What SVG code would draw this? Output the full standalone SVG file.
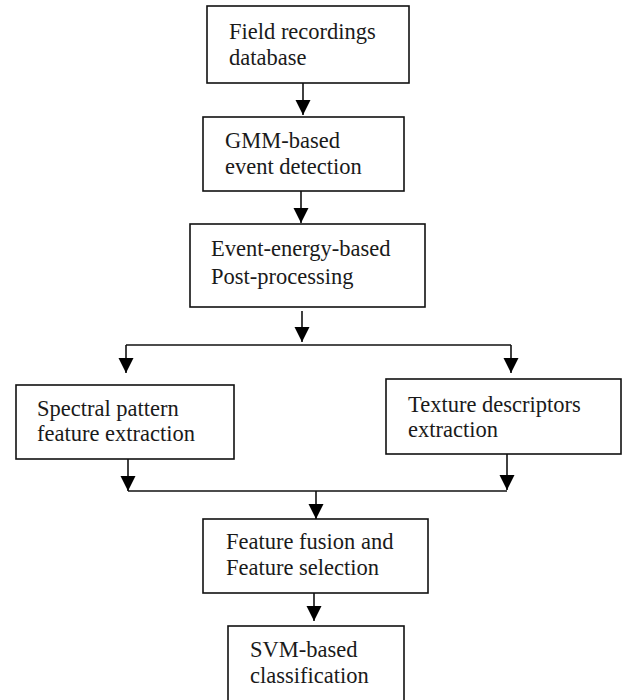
<svg xmlns="http://www.w3.org/2000/svg" width="622" height="700" viewBox="0 0 622 700">
  <style>
    .box { fill: #ffffff; stroke: #111111; stroke-width: 1.6; }
    .lbl { font-family: "Liberation Serif", "Times New Roman", serif; font-size: 22.5px; fill: #1a1a1a; }
    .wire { fill: none; stroke: #111111; stroke-width: 1.6; }
  </style>
  <defs>
    <marker id="head" markerUnits="userSpaceOnUse" markerWidth="16" markerHeight="16" refX="15" refY="7.5" orient="auto">
      <path d="M0,0 L15,7.5 L0,15 Z" fill="#000000"/>
    </marker>
  </defs>
  <rect width="622" height="700" fill="#ffffff"/>

  <g id="n-field">
    <rect class="box" x="207" y="6" width="202" height="77"/>
    <text class="lbl" x="229" y="39">Field recordings</text>
    <text class="lbl" x="229" y="65">database</text>
  </g>
  <g id="n-gmm">
    <rect class="box" x="203" y="117" width="201" height="74"/>
    <text class="lbl" x="225" y="148">GMM-based</text>
    <text class="lbl" x="225" y="174">event detection</text>
  </g>
  <g id="n-post">
    <rect class="box" x="190" y="224" width="235" height="83"/>
    <text class="lbl" x="211" y="256">Event-energy-based</text>
    <text class="lbl" x="211" y="284">Post-processing</text>
  </g>
  <g id="n-spectral">
    <rect class="box" x="16" y="385" width="218" height="74"/>
    <text class="lbl" x="37" y="416">Spectral pattern</text>
    <text class="lbl" x="37" y="441">feature extraction</text>
  </g>
  <g id="n-texture">
    <rect class="box" x="386" y="379" width="235" height="75"/>
    <text class="lbl" x="408" y="412">Texture descriptors</text>
    <text class="lbl" x="408" y="437">extraction</text>
  </g>
  <g id="n-fusion">
    <rect class="box" x="203" y="519" width="225" height="74"/>
    <text class="lbl" x="226" y="549">Feature fusion and</text>
    <text class="lbl" x="226" y="575">Feature selection</text>
  </g>
  <g id="n-svm">
    <rect class="box" x="228" y="626" width="176" height="90"/>
    <text class="lbl" x="250" y="657">SVM-based</text>
    <text class="lbl" x="250" y="683">classification</text>
  </g>

  <g id="connectors">
    <line class="wire" x1="303" y1="83" x2="303" y2="115" marker-end="url(#head)"/>
    <line class="wire" x1="301" y1="191" x2="301" y2="223" marker-end="url(#head)"/>
    <line class="wire" x1="302" y1="311" x2="302" y2="342" marker-end="url(#head)"/>
    <line class="wire" x1="126" y1="345" x2="511" y2="345"/>
    <line class="wire" x1="126" y1="345" x2="126" y2="373" marker-end="url(#head)"/>
    <line class="wire" x1="511" y1="345" x2="511" y2="373" marker-end="url(#head)"/>
    <line class="wire" x1="128" y1="459" x2="128" y2="491" marker-end="url(#head)"/>
    <line class="wire" x1="507" y1="454" x2="507" y2="490" marker-end="url(#head)"/>
    <line class="wire" x1="128" y1="491" x2="507" y2="491"/>
    <line class="wire" x1="316" y1="491" x2="316" y2="519" marker-end="url(#head)"/>
    <line class="wire" x1="314" y1="593" x2="314" y2="621" marker-end="url(#head)"/>
  </g>
</svg>
